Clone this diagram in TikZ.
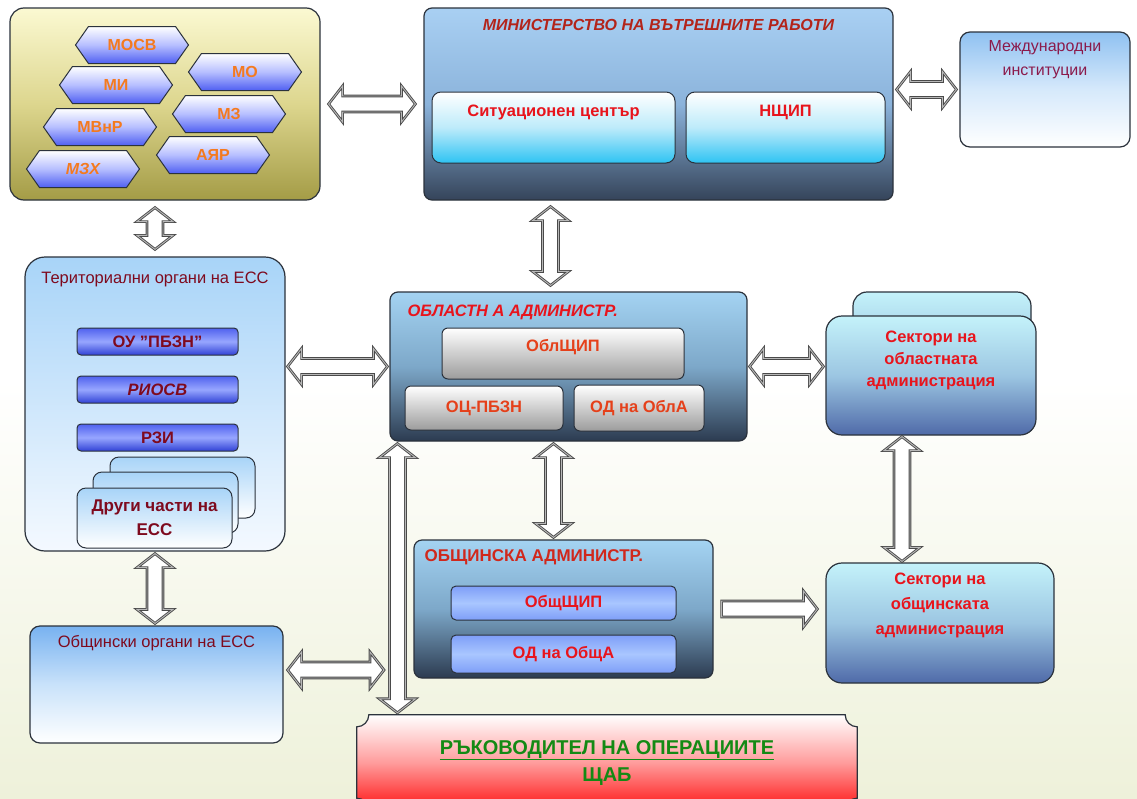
\documentclass[tikz,border=0pt]{standalone}
\usepackage{fontspec}
\setmainfont{Liberation Sans}
\usetikzlibrary{shapes.symbols, positioning, calc, backgrounds}

\definecolor{edge}{HTML}{2B323C}
\definecolor{olivetop}{HTML}{FBF9D2}
\definecolor{olivemid}{HTML}{DDD68E}
\definecolor{olivebot}{HTML}{A49C46}
\definecolor{hexblue}{HTML}{4F5FF2}
\definecolor{hexmid}{HTML}{B6BEFF}
\definecolor{hexorange}{HTML}{F47A1F}
\definecolor{steeltop}{HTML}{A9D0F3}
\definecolor{steelmid}{HTML}{8BB3DB}
\definecolor{steelbot}{HTML}{35445A}
\definecolor{cyanmid}{HTML}{BDEBFA}
\definecolor{cyanbot}{HTML}{2EC3F3}
\definecolor{alarm}{HTML}{E8141C}
\definecolor{brick}{HTML}{B3241A}
\definecolor{ember}{HTML}{D0281C}
\definecolor{maroon}{HTML}{7E0A1E}
\definecolor{plum}{HTML}{8B1A4B}
\definecolor{intltop}{HTML}{8FC1F1}
\definecolor{intlmid}{HTML}{D6E9FB}
\definecolor{skytop}{HTML}{A8D4F8}
\definecolor{skybot}{HTML}{F4F9FF}
\definecolor{orgtop}{HTML}{78B2F0}
\definecolor{orgmid}{HTML}{C9E2FA}
\definecolor{barblue}{HTML}{5062EE}
\definecolor{barlight}{HTML}{97A6FF}
\definecolor{bardark}{HTML}{3142D6}
\definecolor{regtop}{HTML}{A4D3F2}
\definecolor{regmid}{HTML}{7DA8C9}
\definecolor{regbot}{HTML}{2C3B50}
\definecolor{silver}{HTML}{9C9C9C}
\definecolor{rust}{HTML}{E5401A}
\definecolor{icetop}{HTML}{C4F2FA}
\definecolor{icemid}{HTML}{9CC6E2}
\definecolor{icebot}{HTML}{4F6AA8}
\definecolor{paletop}{HTML}{7E9EF8}
\definecolor{palemid}{HTML}{A9C6FF}
\definecolor{signpink}{HTML}{FF9C9C}
\definecolor{signred}{HTML}{FF1414}
\definecolor{leafgreen}{HTML}{148A14}
\definecolor{arrowedge}{HTML}{4A4A4A}
\definecolor{arrowmid}{HTML}{B8B8B8}
\definecolor{bgbot}{HTML}{EEF1DA}

\begin{document}
\begin{tikzpicture}[
    x=1pt, y=-1pt, % one unit = one pixel of the layout, y runs down
    % Styles
    panel/.style={rectangle, draw=edge, line width=1.2pt, rounded corners=10pt, inner sep=0pt},
    heading/.style={inner sep=0pt, font=\fontsize{16.5}{18}\selectfont, text=maroon},
    hexa/.style={signal, signal to=west and east, signal pointer angle=110, draw=edge, line width=1pt, top color=white, bottom color=hexblue, middle color=hexmid, minimum width=113pt, minimum height=37pt, inner sep=0pt, font=\bfseries\fontsize{16}{16}\selectfont, text=hexorange},
    bar/.style={rectangle, draw=edge, line width=1pt, rounded corners=4pt, top color=barblue, bottom color=bardark, middle color=barlight, minimum width=161pt, minimum height=27pt, inner sep=0pt, font=\bfseries\fontsize{16.5}{16.5}\selectfont, text=maroon},
    card/.style={rectangle, draw=edge, line width=1pt, rounded corners=9pt, top color=skytop, bottom color=white, minimum width=145pt, minimum height=61pt},
    cyanbox/.style={rectangle, draw=edge, line width=1pt, rounded corners=9pt, top color=white, bottom color=cyanbot, middle color=cyanmid, inner sep=0pt, font=\bfseries\fontsize{16.5}{18}\selectfont, text=alarm},
    greybox/.style={rectangle, draw=edge, line width=1pt, rounded corners=6pt, top color=white, bottom color=silver, inner sep=0pt, font=\bfseries\fontsize{16.5}{18}\selectfont, text=rust},
    bluebox/.style={rectangle, draw=edge, line width=1pt, rounded corners=5pt, top color=paletop, bottom color=paletop, middle color=palemid, minimum width=225pt, inner sep=0pt, font=\bfseries\fontsize{16.5}{18}\selectfont, text=alarm},
    arrowbody/.style={fill=white, draw=arrowedge, double=arrowmid, double distance=0.9pt, line width=0.9pt},
    % hollow two-headed arrow, #1 = gap left at both ends
    dblarrow/.style={arrowbody, to path={let \p1=(\tikztostart), \p2=(\tikztotarget), \n1={atan2(\y2-\y1,\x2-\x1)}, \p3=($(\p1)+(\n1:#1)$), \p4=($(\p2)-(\n1:#1)$) in
        (\p3) -- ($(\p3)+(\n1:14pt)+(\n1+90:18pt)$) -- ($(\p3)+(\n1:14pt)+(\n1+90:8pt)$)
        -- ($(\p4)-(\n1:14pt)+(\n1+90:8pt)$) -- ($(\p4)-(\n1:14pt)+(\n1+90:18pt)$) -- (\p4)
        -- ($(\p4)-(\n1:14pt)-(\n1+90:18pt)$) -- ($(\p4)-(\n1:14pt)-(\n1+90:8pt)$)
        -- ($(\p3)+(\n1:14pt)-(\n1+90:8pt)$) -- ($(\p3)+(\n1:14pt)-(\n1+90:18pt)$) -- cycle}},
    dblarrow/.default=6pt,
    % hollow one-headed arrow
    onearrow/.style={arrowbody, to path={let \p1=(\tikztostart), \p2=(\tikztotarget), \n1={atan2(\y2-\y1,\x2-\x1)}, \p3=($(\p1)+(\n1:#1)$), \p4=($(\p2)-(\n1:#1)$) in
        ($(\p3)+(\n1+90:8pt)$) -- ($(\p4)-(\n1:14pt)+(\n1+90:8pt)$) -- ($(\p4)-(\n1:14pt)+(\n1+90:18pt)$) -- (\p4)
        -- ($(\p4)-(\n1:14pt)-(\n1+90:18pt)$) -- ($(\p4)-(\n1:14pt)-(\n1+90:8pt)$) -- ($(\p3)-(\n1+90:8pt)$) -- cycle}},
    onearrow/.default=6pt
]
\useasboundingbox (0,0) rectangle (1137,798);
\begin{scope}[on background layer]
    \fill[white] (0,0) rectangle (1137,798);
    \shade[top color=white, bottom color=bgbot] (0,380) rectangle (1137,798);
\end{scope}

% --- Ministries (top left) ---
\node[panel, rounded corners=14pt, top color=olivetop, bottom color=olivebot, middle color=olivemid, minimum width=310pt, minimum height=192pt] (ministries) at (165,104) {};
\node[hexa] (mosv) at (132,45) {МОСВ};
\node[hexa] (mi) at (116,85) {МИ};
\node[hexa] (mvnr) at (100,127) {МВнР};
\node[hexa, font=\bfseries\itshape\fontsize{16}{16}\selectfont] (mzh) at (83,169) {МЗХ};
\node[hexa] (mo) at (245,72) {МО};
\node[hexa] (mz) at (229,114) {МЗ};
\node[hexa] (ayr) at (213,155) {АЯР};

% --- Ministry of Interior ---
\node[panel, rounded corners=8pt, top color=steeltop, bottom color=steelbot, middle color=steelmid, minimum width=469pt, minimum height=192pt,
    label={[anchor=north, yshift=-12pt, heading, font=\bfseries\itshape\fontsize{16}{18}\selectfont, text=brick]north:МИНИСТЕРСТВО НА ВЪТРЕШНИТЕ РАБОТИ}] (mvr) at (658.5,104) {};
\node[cyanbox, minimum width=243pt, text height=24pt, text depth=47pt] (sit_center) at (553.5,127.5) {Ситуационен център};
\node[cyanbox, minimum width=199pt, text height=24pt, text depth=47pt, right=10pt of sit_center] (nshtip) {НЩИП};

% --- International institutions ---
\node[panel, top color=intltop, bottom color=white, middle color=intlmid, minimum width=170pt, minimum height=115pt,
    label={[yshift=29.5pt, heading, font=\fontsize{16}{24}\selectfont, text=plum, align=center]center:{Международни\\институции}}] (intl) at (1045,89.5) {};

% --- Territorial bodies ---
\node[panel, rounded corners=20pt, top color=skytop, bottom color=skybot, minimum width=260pt, minimum height=294pt,
    label={[anchor=north, yshift=-15pt, heading]north:Териториални органи на ЕСС}] (terr) at (155,404) {};
\node[bar] (ou_pbzn) at (157.5,341.5) {ОУ "ПБЗН"};
\node[bar, below=20pt of ou_pbzn, font=\bfseries\itshape\fontsize{16.5}{16.5}\selectfont] (riosv) {РИОСВ};
\node[bar, below=20pt of riosv] (rzi) {РЗИ};
\node[card] (other_back) at (182.5,487.5) {};
\node[card] (other_mid) at (165.5,502.5) {};
\node[card, minimum width=155pt, minimum height=60pt, font=\bfseries\fontsize{17}{24}\selectfont, text=maroon, align=center] (other) at (154.5,518) {Други части на\\ЕСС};

% --- Municipal bodies ---
\node[panel, top color=orgtop, bottom color=white, middle color=orgmid, minimum width=253pt, minimum height=117pt,
    label={[anchor=north, yshift=-10pt, heading]north:Общински органи на ЕСС}] (obsh_org) at (156.5,684.5) {};

% --- Regional administration ---
\node[panel, rounded corners=8pt, top color=regtop, bottom color=regbot, middle color=regmid, minimum width=357pt, minimum height=149pt,
    label={[anchor=north west, xshift=18pt, yshift=-13pt, heading, font=\bfseries\itshape\fontsize{16.5}{18}\selectfont, text=alarm]north west:ОБЛАСТН А АДМИНИСТР.}] (regional) at (568.5,366.5) {};
\node[greybox, minimum width=242pt, text height=23pt, text depth=28pt] (obl_shtip) at (563,353.5) {ОблЩИП};
\node[greybox, minimum width=158pt, minimum height=44pt] (oc_pbzn) at (484,408) {ОЦ-ПБЗН};
\node[greybox, minimum width=130pt, minimum height=46pt, right=10pt of oc_pbzn] (od_obla) {ОД на ОблА};

% --- Sectors of the regional administration ---
\node[panel, rounded corners=14pt, top color=icetop, bottom color=icebot, middle color=icemid, minimum width=178pt, minimum height=116pt] (sec_obl_back) at (942,350) {};
\node[panel, rounded corners=16pt, top color=icetop, bottom color=icebot, middle color=icemid, minimum width=210pt, minimum height=119pt,
    label={[yshift=15.5pt, heading, font=\bfseries\fontsize{16.5}{22}\selectfont, text=alarm, align=center]center:{Сектори на\\областната\\администрация}}] (sec_obl) at (931,375.5) {};

% --- Municipal administration ---
\node[panel, rounded corners=8pt, top color=regtop, bottom color=regbot, middle color=regmid, minimum width=299pt, minimum height=138pt,
    label={[anchor=north west, xshift=11pt, yshift=-10pt, heading, font=\bfseries\fontsize{17}{18}\selectfont, text=ember]north west:ОБЩИНСКА АДМИНИСТР.}] (mun_adm) at (563.5,609) {};
\node[bluebox, minimum height=34pt] (obsh_shtip) at (563.5,603) {ОбщЩИП};
\node[bluebox, minimum height=38pt, below=14pt of obsh_shtip] (od_obsha) {ОД на ОбщА};

% --- Sectors of the municipal administration ---
\node[panel, rounded corners=16pt, top color=icetop, bottom color=icebot, middle color=icemid, minimum width=228pt, minimum height=120pt,
    label={[yshift=18pt, heading, font=\bfseries\fontsize{16.5}{25}\selectfont, text=alarm, align=center]center:{Сектори на\\общинската\\администрация}}] (sec_mun) at (940,623) {};

% --- Head of operations ---
\node[font=\bfseries\fontsize{20}{27}\selectfont, text=leafgreen, align=center, minimum width=500pt, minimum height=95pt] (leader) at (607,762.5) {\underline{РЪКОВОДИТЕЛ НА ОПЕРАЦИИТЕ}\\ЩАБ};
\begin{scope}[on background layer]
    \shade[top color=white, bottom color=signred, middle color=signpink, draw=edge, line width=1.2pt]
        ([xshift=12pt]leader.north west) -- ([xshift=-12pt]leader.north east)
        arc[start angle=180, end angle=270, radius=12pt] -- ([yshift=12pt]leader.south east)
        arc[start angle=90, end angle=180, radius=12pt] -- ([xshift=12pt]leader.south west)
        arc[start angle=0, end angle=90, radius=12pt] -- ([yshift=-12pt]leader.north west)
        arc[start angle=270, end angle=360, radius=12pt] -- cycle;
\end{scope}

% --- Connectors ---
\coordinate (spine_join) at (388,670);
\draw[dblarrow=8pt] (ministries.east) to (mvr.west);
\draw[dblarrow=3pt] (mvr.east |- intl.west) to (intl.west);
\draw[dblarrow=7pt] (terr.north |- ministries.south) to (terr.north);
\draw[dblarrow] ($(regional.north |- mvr.south)+(-18,0)$) to ($(regional.north)+(-18,0)$);
\draw[dblarrow=2pt] (terr.east |- regional.west) to (regional.west);
\draw[dblarrow=2pt] (regional.east) to (regional.east -| sec_obl.west);
\draw[dblarrow=2pt] ($(mun_adm.north |- regional.south)+(-10,0)$) to ($(mun_adm.north)+(-10,0)$);
\draw[dblarrow=1pt] ($(sec_obl.south)+(-29,0)$) to ($(sec_obl.south |- sec_mun.north)+(-29,0)$);
\draw[dblarrow=2pt] (terr.south) to (terr.south |- obsh_org.north);
\draw[dblarrow=4pt] (obsh_org.east |- spine_join) to (spine_join);
\draw[dblarrow=2pt] ($(regional.south west)+(8,0)$) to ($(regional.south west |- leader.north)+(8,0)$);
\draw[onearrow=8pt] (mun_adm.east) to (mun_adm.east -| sec_mun.west);

\end{tikzpicture}
\end{document}
